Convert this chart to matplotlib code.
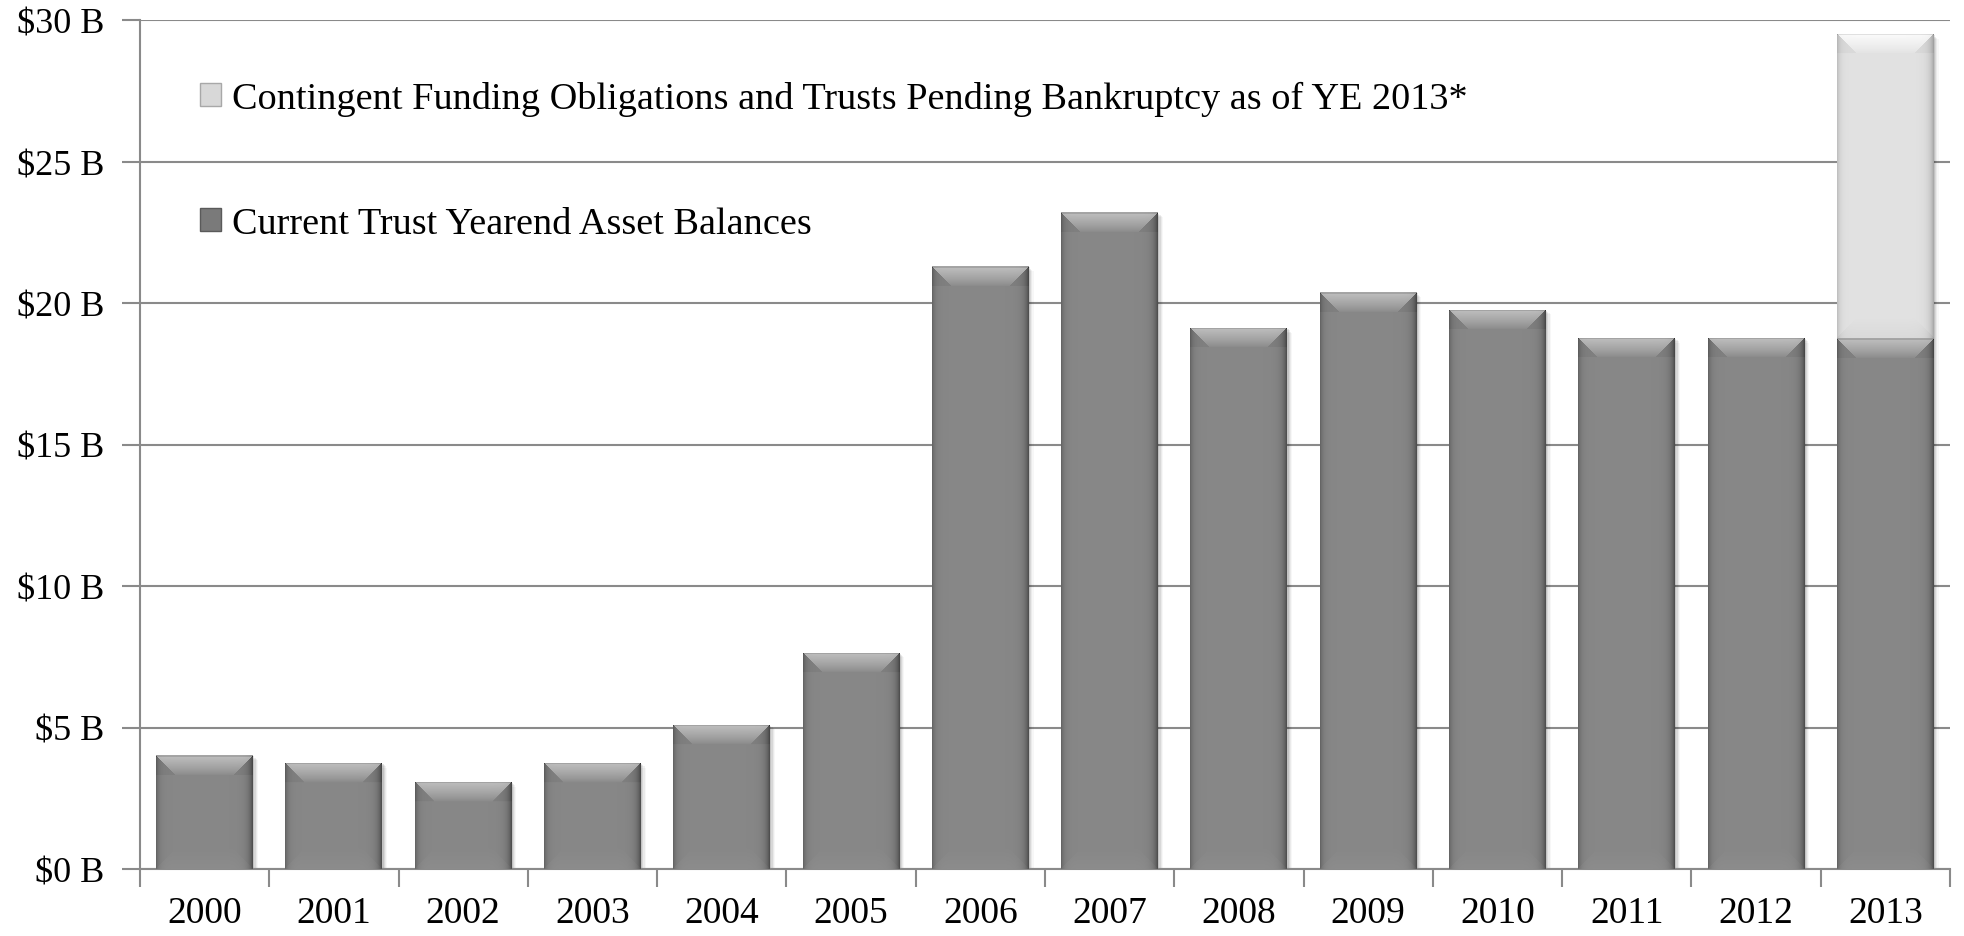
import numpy as np
import matplotlib
matplotlib.use("Agg")
import matplotlib.pyplot as plt
from matplotlib.patches import Patch
import matplotlib.transforms as mtransforms

# ---------------- data ----------------
years = ["2000", "2001", "2002", "2003", "2004", "2005", "2006",
         "2007", "2008", "2009", "2010", "2011", "2012", "2013"]
current_balances = [4.02, 3.75, 3.08, 3.75, 5.1, 7.65, 21.3,
                    23.2, 19.12, 20.38, 19.77, 18.77, 18.77, 18.75]
contingent = [0, 0, 0, 0, 0, 0, 0, 0, 0, 0, 0, 0, 0, 10.75]
ytick_values = [0, 5, 10, 15, 20, 25, 30]
ytick_labels = ["$0 B", "$5 B", "$10 B", "$15 B", "$20 B", "$25 B", "$30 B"]
label_current = "Current Trust Yearend Asset Balances"
label_contingent = "Contingent Funding Obligations and Trusts Pending Bankruptcy as of YE 2013*"

# ---------------- style ----------------
W, H = 1965, 937
DPI = 100
plt.rcParams["font.family"] = ["Liberation Serif", "DejaVu Serif"]
FS = 26
GRID = "#8a8a8a"
DARK = 0.53
LIGHT = 0.885

fig = plt.figure(figsize=(W / DPI, H / DPI), dpi=DPI)
fig.patch.set_facecolor("white")
ax_l, ax_r, ax_t, ax_b = 140, 1950, 21, 870
ax = fig.add_axes([ax_l / W, 1 - ax_b / H, (ax_r - ax_l) / W, (ax_b - ax_t) / H])
ax.set_facecolor("white")

x = np.arange(len(years))
ax.set_xlim(-0.5, len(years) - 0.5)
ax.set_ylim(0, 30)
bar_w = 0.75

px_per_x = (ax_r - ax_l) / len(years)
px_per_y = (ax_b - ax_t) / 30.0

# soft shadows
tot = np.array(current_balances) + np.array(contingent)
for off, a in [(2, 0.10), (4, 0.07), (6, 0.05), (8, 0.03)]:
    tr = mtransforms.offset_copy(ax.transData, fig=fig, x=off * 0.6, y=-off * 0.6, units="dots")
    ax.bar(x, tot, width=bar_w, color="black", alpha=a, transform=tr, zorder=1,
           linewidth=0)

bars_cur = ax.bar(x, current_balances, width=bar_w, color=str(DARK), zorder=2,
                  linewidth=0, label=label_current)
bars_con = ax.bar(x, contingent, width=bar_w, bottom=current_balances,
                  color=str(LIGHT), zorder=2, linewidth=0, label=label_contingent)


def shade(patch, base, top_boost, bottom_boost, edge_dark):
    x0, y0 = patch.get_x(), patch.get_y()
    w, h = patch.get_width(), patch.get_height()
    if h <= 0:
        return
    npx_w = max(int(round(w * px_per_x)), 2)
    npx_h = max(int(round(h * px_per_y)), 2)
    img = np.full((npx_h, npx_w), base, dtype=float)
    cols = np.arange(npx_w)
    rows = np.arange(npx_h)
    left = edge_dark * 0.6 * np.exp(-cols / 3.0)
    right = edge_dark * np.exp(-(npx_w - 1 - cols) / 4.0)
    img -= (left + right)[None, :]
    b = min(20, npx_h // 2)
    C, R = np.meshgrid(cols, rows)
    top_mask = (R < b) & (C >= R) & (C <= npx_w - 1 - R)
    grad = top_boost * (1 - R / b) ** 0.8
    img = np.where(top_mask, base + grad - 0.3 * (left + right)[None, :], img)
    side_top = (R < b) & ~top_mask
    img = np.where(side_top, img - 0.03, img)
    Rb = npx_h - 1 - R
    bot_mask = (Rb < b) & (C >= Rb) & (C <= npx_w - 1 - Rb)
    img = np.where(bot_mask, img + bottom_boost * (1 - Rb / b), img)
    img[0:2, :] -= 0.10
    img = np.clip(img, 0, 1)
    rgb = np.dstack([img, img, img])
    im = ax.imshow(rgb, extent=(x0, x0 + w, y0, y0 + h), origin="upper",
                   aspect="auto", interpolation="bilinear", zorder=3)
    im.set_clip_path(patch)


for p in bars_cur:
    shade(p, DARK, 0.22, 0.02, 0.22)
for p in bars_con:
    shade(p, LIGHT, 0.10, -0.03, 0.22)
ax.set_xlim(-0.5, len(years) - 0.5)
ax.set_ylim(0, 30)

# grid and axes
ax.set_yticks(ytick_values)
ax.set_yticklabels(ytick_labels, fontsize=FS)
ax.yaxis.grid(True, color=GRID, linewidth=1.5, zorder=0)
ax.set_axisbelow(True)
ax.tick_params(axis="y", length=13, width=1.5, color=GRID, pad=13)

ax.set_xticks(x)
ax.set_xticklabels(years, fontsize=27)
ax.set_xticks(np.arange(-0.5, len(years) + 0.5, 1.0), minor=True)
ax.tick_params(axis="x", which="major", length=0, pad=19)
ax.tick_params(axis="x", which="minor", length=13, width=1.5, color=GRID)

for s in ["top", "right"]:
    ax.spines[s].set_visible(False)
for s in ["left", "bottom"]:
    ax.spines[s].set_color(GRID)
    ax.spines[s].set_linewidth(1.5)

# legend
handles = [Patch(facecolor="#d8d8d8", edgecolor="#a8a8a8", linewidth=1.0),
           Patch(facecolor="#7a7a7a", edgecolor="#5a5a5a", linewidth=1.0)]
leg = ax.legend(handles, [label_contingent, label_current],
                loc="upper left", bbox_to_anchor=(60 / (ax_r - ax_l), 1 - 61 / (ax_b - ax_t)),
                frameon=False, fontsize=27.5, handlelength=0.55, handleheight=0.55,
                handletextpad=0.3, labelspacing=2.37, borderaxespad=0, borderpad=0)

fig.savefig("out.png", dpi=DPI, facecolor="white")
